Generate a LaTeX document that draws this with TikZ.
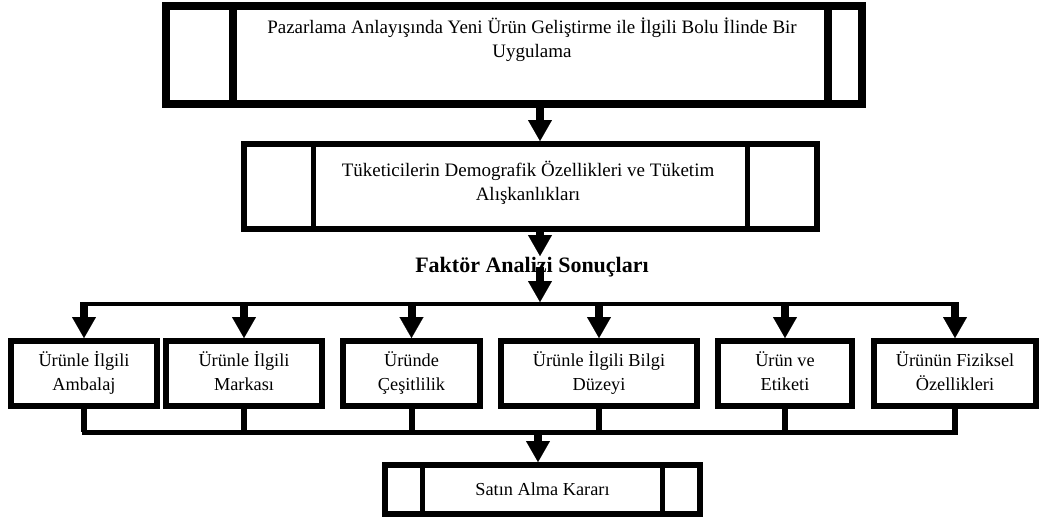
\documentclass[tikz,border=0pt]{standalone}
\usepackage{fontspec}
\setmainfont{Liberation Serif}
\usetikzlibrary{arrows.meta}
\newcommand{\strutline}[1]{\strut#1}
\begin{document}
\begin{tikzpicture}[x=1pt,y=-1pt,
  txt/.style={font=\fontsize{19}{24}\selectfont,align=center},
  bigbox/.style={draw,line width=#1,inner sep=0pt},
  smallbox/.style={draw,line width=6pt,inner sep=0pt,minimum height=65pt,align=center,font=\fontsize{18.3}{24}\selectfont},
  arr/.style={line width=8pt,-{Triangle[width=24pt,length=21pt,line width=0.1pt]}},
  bus/.style={line width=#1,line cap=rect},
]
\useasboundingbox (0,0) rectangle (1041,519);
% top box
\node[bigbox=8pt,minimum width=696pt,minimum height=98pt] (top) at (514,55) {};
\draw[line width=8pt] (233,6) -- (233,104);
\draw[line width=8pt] (828,6) -- (828,104);
\node[txt] (ttop) at (532,40) {Pazarlama Anlayışında Yeni Ürün Geliştirme ile İlgili Bolu İlinde Bir\\Uygulama};
% middle box
\node[bigbox=6pt,minimum width=573pt,minimum height=85pt] (mid) at (530.5,186.5) {};
\draw[line width=5pt] (313,144) -- (313,229);
\draw[line width=5pt] (747,144) -- (747,229);
\node[txt] (tmid) at (528,183) {Tüketicilerin Demografik Özellikleri ve Tüketim\\Alışkanlıkları};
% arrows
\coordinate (ax) at (540,0);
\coordinate (ftip) at (540,256);
\draw[arr] (ax |- top.south) -- (ax |- mid.north);
\draw[arr] (ax |- mid.south) -- (ftip);
\node[font=\fontsize{22}{26}\selectfont\bfseries] (fa) at (532,267) {Faktör Analizi Sonuçları};
\coordinate (busy) at (0,304);
\coordinate (bustop) at (0,302);
\draw[arr] (ax |- fa.center) -- (ax |- bustop);
% bottom boxes
\node[smallbox,minimum width=146pt] (b1) at (84,373.5) {\strutline{Ürünle İlgili}\\\strutline{Ambalaj}};
\node[smallbox,minimum width=156pt] (b2) at (244,373.5) {\strutline{Ürünle İlgili}\\\strutline{Markası}};
\node[smallbox,minimum width=137pt] (b3) at (411.5,373.5) {\strutline{Üründe}\\\strutline{Çeşitlilik}};
\node[smallbox,minimum width=196pt] (b4) at (599,373.5) {\strutline{Ürünle İlgili Bilgi}\\\strutline{Düzeyi}};
\node[smallbox,minimum width=134pt] (b5) at (785,373.5) {\strutline{Ürün ve}\\\strutline{Etiketi}};
\node[smallbox,minimum width=162pt] (b6) at (955,373.5) {\strutline{Ürünün Fiziksel}\\\strutline{Özellikleri}};
% distribution bus
\draw[bus=4pt] (b1.north |- busy) -- (b6.north |- busy);
\foreach \b in {b1,b2,b3,b4,b5,b6}{
  \draw[arr] (\b.north |- bustop) -- (\b.north);
}
% collector bus
\coordinate (coly) at (0,432);
\foreach \b in {b1,b2,b3,b4,b5,b6}{
  \draw[line width=6pt] (\b.south) -- (\b.south |- coly);
}
\draw[bus=5pt] (b1.south |- coly) -- (b6.south |- coly);
% last box
\node[bigbox=6pt,minimum width=315pt,minimum height=49pt,font=\fontsize{18.3}{24}\selectfont] (last) at (542.5,489.5) {Satın Alma Kararı};
\draw[line width=5pt] (422,465) -- (422,514);
\draw[line width=5pt] (662,465) -- (662,514);
\coordinate (cx) at (538,0);
\draw[arr] (cx |- coly) -- (cx |- last.north);
\end{tikzpicture}
\end{document}
